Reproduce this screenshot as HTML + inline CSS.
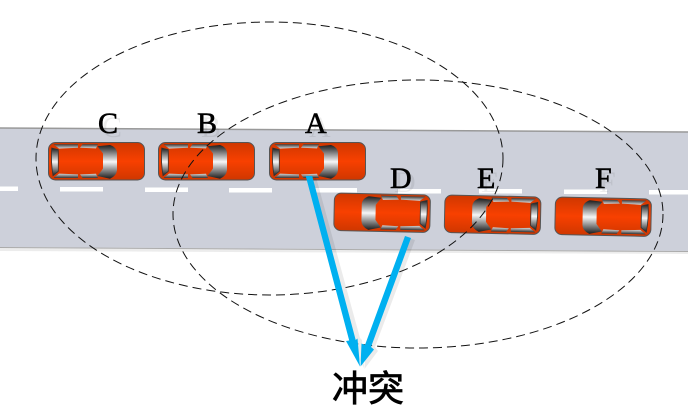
<!DOCTYPE html>
<html><head><meta charset="utf-8">
<style>
html,body{margin:0;padding:0;background:#fff}
svg{display:block}
text{font-family:"Liberation Serif",serif;font-size:30px}
</style></head><body>
<svg width="688" height="418" viewBox="0 0 688 418" xmlns="http://www.w3.org/2000/svg">
<defs>
<linearGradient id="body" x1="0" y1="0" x2="0" y2="1">
<stop offset="0" stop-color="#cf3700"/><stop offset=".5" stop-color="#f84000"/><stop offset="1" stop-color="#cf3700"/>
</linearGradient>
<linearGradient id="glass" x1="0" y1="0" x2="0" y2="1">
<stop offset="0" stop-color="#1c1c1c"/><stop offset=".5" stop-color="#f6f6f6"/><stop offset="1" stop-color="#1c1c1c"/>
</linearGradient>
<linearGradient id="side" x1="0" y1="0" x2="0" y2="1">
<stop offset="0" stop-color="#3a3a3a"/><stop offset="1" stop-color="#d8d8d8"/>
</linearGradient>
<linearGradient id="side2" x1="0" y1="0" x2="0" y2="1">
<stop offset="0" stop-color="#d8d8d8"/><stop offset="1" stop-color="#333"/>
</linearGradient>
<g id="car">
<rect x=".5" y=".5" width="96" height="37.500" rx="7" fill="url(#body)" stroke="#555" stroke-width="1"/>
<path d="M3.700 6 L10.300 7.700 L10.300 29.300 L5 33.700 Q2.800 20 3.700 6Z" fill="url(#glass)" stroke="#333" stroke-width=".8"/>
<path d="M5.500 2.200 L30 2.200 L30 5.800 L11 6.600Z" fill="url(#side)"/>
<path d="M32 5.800 L34.500 2.200 L50 2.200 L48 6.400 Z" fill="url(#side)"/>
<path d="M5.500 36 L30 36 L30 32.400 L11 31.600Z" fill="url(#side2)"/>
<path d="M32 32.400 L34.500 36 L50 36 L48 31.800 Z" fill="url(#side2)"/>
<path d="M49.500 4.300 L62 3 Q68.500 5 69 11 L69 28 Q68.500 34 62 36.700 L49.500 34 L55 26.500 L55 11.500Z" fill="url(#glass)"/>
</g>
</defs>
<rect width="688" height="418" fill="#fff"/>
<path d="M0 247 L688 251 L688 254 L0 251Z" fill="#ececec"/>
<path d="M0 128 L688 132 L688 251 L0 247Z" fill="#cdd0da"/>
<path d="M0 128 L688 132" stroke="#999" stroke-width="1.500" fill="none"/>
<path d="M0 247.500 L688 251.500" stroke="#aaa" stroke-width="1" fill="none"/>
<g fill="#fff">
<rect x="-24" y="186.500" width="42" height="4.500"/>
<rect x="60" y="187" width="43" height="4.500"/>
<rect x="145" y="187.500" width="43" height="4.500"/>
<rect x="229" y="188" width="43" height="4.500"/>
<rect x="314" y="188" width="43" height="4.500"/>
<rect x="398" y="189" width="43" height="4.500"/>
<rect x="479" y="189" width="43" height="4.500"/>
<rect x="564" y="189.500" width="43" height="4.500"/>
<rect x="649" y="190" width="43" height="4.500"/>
</g>
<use href="#car" transform="translate(431,194.500) rotate(1.200) scale(-1,1)"/>
<use href="#car" transform="translate(541.500,196.500) rotate(1.200) scale(-1,1)"/>
<use href="#car" transform="translate(652,198.500) rotate(1.200) scale(-1,1)"/>
<use href="#car" transform="translate(48,142)"/>
<use href="#car" transform="translate(158,142)"/>
<use href="#car" transform="translate(269,142)"/>
<g fill="#000" fill-opacity=".07">
<text x="102" y="137">C</text><text x="201" y="137">B</text><text x="309" y="137">A</text>
<text x="394" y="192">D</text><text x="481" y="192">E</text><text x="599" y="192">F</text>
</g>
<g fill="#000" stroke="#000" stroke-width=".6">
<text x="98" y="133">C</text><text x="197" y="133">B</text><text x="305" y="133">A</text>
<text x="390" y="188">D</text><text x="477" y="188">E</text><text x="595" y="188">F</text>
</g>
<g fill="none" stroke="#111" stroke-width="1" stroke-dasharray="9 5">
<ellipse cx="269.500" cy="158.500" rx="233.500" ry="136.500"/>
<ellipse cx="418" cy="214" rx="245" ry="134"/>
</g>
<g fill="#000" fill-opacity=".08">
<path d="M310 178 L316 177 L360 338 L362 340 L364 368 L350 342 L353 341Z"/>
<path d="M409 238 L415 240 L375 347 L378 351 L364.500 369 L365.500 346 L369 345Z"/>
</g>
<g fill="#00b0f0">
<path d="M305.700 176 L312.200 176 L355.700 340 L357.500 338.500 L360 366.500 L346 341 L349.200 340.500Z"/>
<path d="M405 236 L411 238 L371 347 L374 349.500 L360.500 366.500 L361.500 343.500 L365 345Z"/>
</g>
<text x="332" y="401" stroke="#000" stroke-width=".8" style='font-family:"Liberation Sans","Noto Sans CJK SC",sans-serif;font-size:36px' fill="#000">冲突</text>
</svg>
</body></html>
